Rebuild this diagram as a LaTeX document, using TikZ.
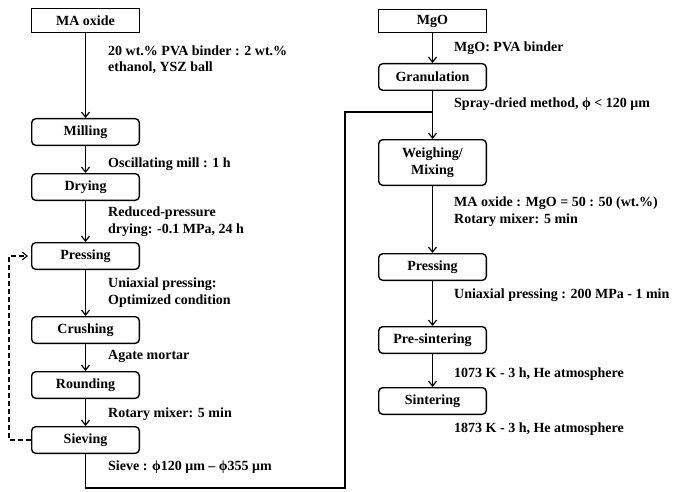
\documentclass[tikz,border=0pt]{standalone}
\usepackage{fontspec}
\setmainfont{Liberation Serif}
\usetikzlibrary{arrows.meta, positioning}

\begin{document}
\begin{tikzpicture}[x=1pt,y=-1pt,>={Straight Barb[length=5pt,width=8pt]},
  font=\fontsize{14}{16.5}\selectfont\bfseries,
  stepbox/.style={rectangle, rounded corners=4pt, draw, line width=1.4pt, minimum width=107.6pt, minimum height=26.6pt, inner sep=2pt, align=center},
  startbox/.style={stepbox, rounded corners=0pt, minimum height=22.6pt},
  note/.style={anchor=base west, inner sep=0pt, align=left},
  flow/.style={->, line width=1.2pt}]
\useasboundingbox (0,0) rectangle (674,492);

% MA oxide column
\node[startbox, minimum height=23.6pt] (maoxide) at (85.5,20.5) {MA oxide};
\node[stepbox, below=85pt of maoxide] (milling) {Milling};
\node[stepbox, below=27pt of milling] (drying) {Drying};
\node[stepbox, below=41pt of drying] (pressing) {Pressing};
\node[stepbox, below=46pt of pressing] (crushing) {Crushing};
\node[stepbox, below=27pt of crushing] (rounding) {Rounding};
\node[stepbox, below=27pt of rounding] (sieving) {Sieving};

% MgO column
\node[startbox] (mgo) at (432.5,21) {MgO};
\node[stepbox, below=30pt of mgo] (granulation) {Granulation};
\node[stepbox, below=48pt of granulation, minimum height=45.6pt] (weighing) {Weighing/\\Mixing};
\node[stepbox, below=67pt of weighing] (pressingb) {Pressing};
\node[stepbox, below=45pt of pressingb] (presintering) {Pre-sintering};
\node[stepbox, below=33pt of presintering] (sintering) {Sintering};

% Conditions, left (y = baseline of last line)
\node[note] (cond1) at (108,72) {20 wt.\% PVA binder : 2 wt.\%\\ethanol, YSZ ball};
\node[note] (cond2) at (108,167) {Oscillating mill : 1 h};
\node[note] (cond3) at (108,233) {Reduced-pressure\\drying: -0.1 MPa, 24 h};
\node[note] (cond4) at (108,304) {Uniaxial pressing:\\Optimized condition};
\node[note] (cond5) at (108,359) {Agate mortar};
\node[note] (cond6) at (108,417) {Rotary mixer: 5 min};
\node[note] (cond7) at (108,470) {Sieve : ϕ120 μm – ϕ355 μm};

% Conditions, right
\node[note] (condb1) at (454,52) {MgO: PVA binder};
\node[note] (condb2) at (454,107) {Spray-dried method, ϕ < 120 μm};
\node[note] (condb3) at (454,223) {MA oxide : MgO = 50 : 50 (wt.\%)\\Rotary mixer: 5 min};
\node[note] (condb4) at (454,298) {Uniaxial pressing : 200 MPa - 1 min};
\node[note] (condb5) at (454,377) {1073 K - 3 h, He atmosphere};
\node[note] (condb6) at (454,432) {1873 K - 3 h, He atmosphere};

% Arrows, left
\draw[flow] (maoxide) -- (milling);
\draw[flow] (milling) -- (drying);
\draw[flow] (drying) -- (pressing);
\draw[flow] (pressing) -- (crushing);
\draw[flow] (crushing) -- (rounding);
\draw[flow] (rounding) -- (sieving);

% Arrows, right
\draw[flow] (mgo) -- (granulation);
\draw[flow] (granulation) -- (weighing);
\draw[flow] (weighing) -- (pressingb);
\draw[flow] (pressingb) -- (presintering);
\draw[flow] (presintering) -- (sintering);

% Loop back to pressing
\draw[->, dash pattern=on 5pt off 3pt, line width=1.1pt] (sieving.west) -- ++(-22,0) |- ([xshift=-3pt]pressing.west);

% MA oxide joins MgO
\coordinate (bend) at (sieving.south |- 0,488);
\coordinate (join) at (granulation.south |- 0,112);
\draw[line width=1.2pt] (sieving.south) -- (bend) -| (345,112) -- (join);
\end{tikzpicture}
\end{document}
